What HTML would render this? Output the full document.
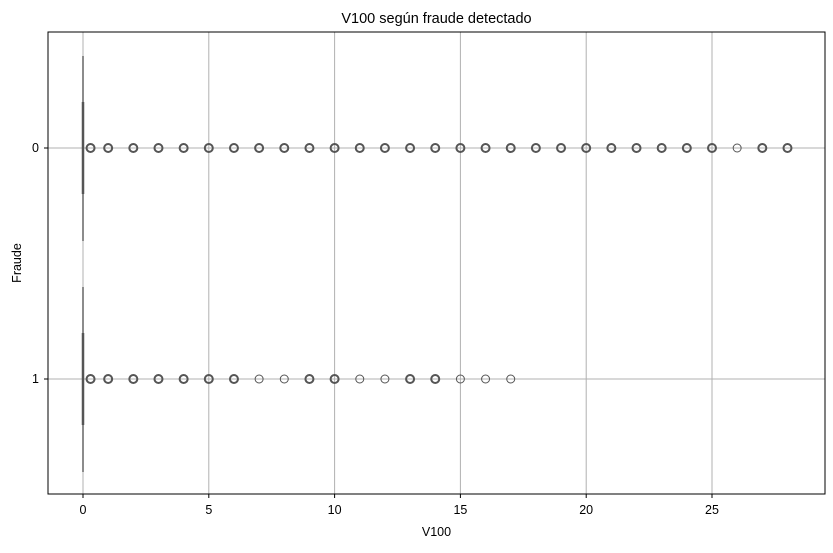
<!DOCTYPE html>
<html><head><meta charset="utf-8"><style>body{margin:0;background:#fff}svg{font-family:"Liberation Sans","DejaVu Sans",sans-serif}</style></head>
<body>
<svg id="c" width="833" height="548" xmlns="http://www.w3.org/2000/svg"></svg>
<script>
const categories = ["0","1"];
const outliers0 = [0.3,1,2,3,4,5,6,7,8,9,10,11,12,13,14,15,16,17,18,19,20,21,22,23,24,25,26,27,28];
const outliers1 = [0.3,1,2,3,4,5,6,7,8,9,10,11,12,13,14,15,16,17];
const boldVals0 = [0.3,1,2,3,4,5,6,7,8,9,10,11,12,13,14,15,16,17,18,19,20,21,22,23,24,25,27,28];
const boldVals1 = [0.3,1,2,3,4,5,6,9,10,13,14];
const xTicks = [0,5,10,15,20,25];
const boxMed = [0,0];
const NS="http://www.w3.org/2000/svg";
const svg=document.getElementById('c');
const L=48,R=825,T=32,B=494;
const xs=v=>83+v*25.16;
const ys=i=>148+i*231;
function el(t,a,p){const e=document.createElementNS(NS,t);for(const k in a)e.setAttribute(k,a[k]);(p||svg).appendChild(e);return e;}
let t=el('text',{x:(L+R)/2,y:23,'text-anchor':'middle','font-size':14.5,fill:'#000'});t.textContent='V100 según fraude detectado';


xTicks.forEach(v=>{
 const g=el('line',{x1:xs(v),x2:xs(v),y1:T,y2:B,stroke:'#b0b0b0','stroke-width':1});
 
 
 el('line',{x1:xs(v),x2:xs(v),y1:B,y2:B+4,stroke:'#000'});
 const tl=el('text',{x:xs(v),y:B+20,'text-anchor':'middle','font-size':12.5});tl.textContent=v;
 
 
});
categories.forEach((c,i)=>{
 const g=el('line',{x1:L,x2:R,y1:ys(i),y2:ys(i),stroke:'#b0b0b0','stroke-width':1});
 
 
 el('line',{x1:L-4,x2:L,y1:ys(i),y2:ys(i),stroke:'#000'});
 const tl=el('text',{x:L-9,y:ys(i)+4,'text-anchor':'end','font-size':12.5});tl.textContent=c;
 
 
 const cy=ys(i);
 const w=el('line',{x1:xs(boxMed[i]),x2:xs(boxMed[i]),y1:cy-92,y2:cy+93,stroke:'#666','stroke-width':1.5});
 
 
 const b=el('line',{x1:xs(boxMed[i]),x2:xs(boxMed[i]),y1:cy-46,y2:cy+46,stroke:'#555','stroke-width':2.5});
 
 
 const outs=i===0?outliers0:outliers1, bold=i===0?boldVals0:boldVals1;
 outs.forEach(v=>{
  const sw=bold.includes(v)?2:1;
  const p=el('circle',{cx:xs(v),cy:cy,r:4,fill:'none',stroke:'#555','stroke-width':sw});
  
  
 });
});
const fr=el('rect',{x:L,y:T,width:R-L,height:B-T,fill:'none',stroke:'#000','stroke-width':1});


let xl=el('text',{x:(L+R)/2,y:536,'text-anchor':'middle','font-size':12.5});xl.textContent='V100';


let yl=el('text',{x:21,y:263,'text-anchor':'middle','font-size':12.5,transform:'rotate(-90 21 263)'});yl.textContent='Fraude';


</script>
</body></html>
